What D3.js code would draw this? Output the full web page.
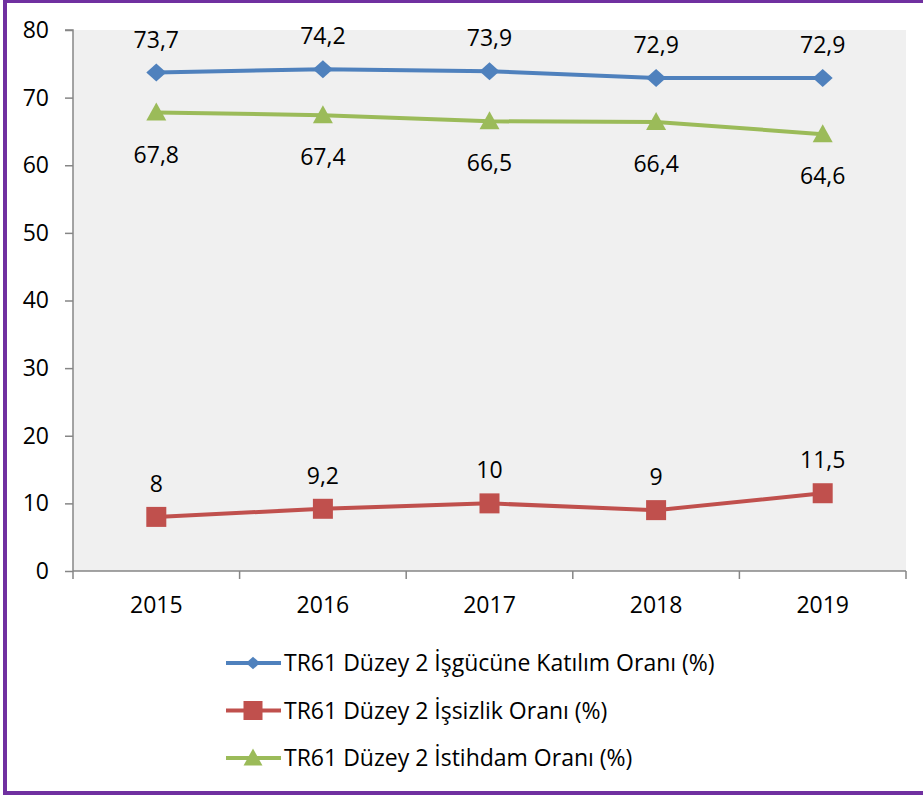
<!DOCTYPE html>
<html>
<head>
<meta charset="utf-8">
<script src="https://cdn.jsdelivr.net/npm/d3@7"></script>
<style>
body { margin: 0; background: #fff; }
svg text { font-family: "Open Sans", "Noto Sans", sans-serif; fill: #000; }
</style>
</head>
<body>
<svg id="chart" width="923" height="795"></svg>
<script>
var years = ["2015", "2016", "2017", "2018", "2019"];
var katilim = [73.7, 74.2, 73.9, 72.9, 72.9];
var issizlik = [8, 9.2, 10, 9, 11.5];
var istihdam = [67.8, 67.4, 66.5, 66.4, 64.6];
var yTicks = [0, 10, 20, 30, 40, 50, 60, 70, 80];
var seriesNames = ["TR61 Düzey 2 İşgücüne Katılım Oranı (%)", "TR61 Düzey 2 İşsizlik Oranı (%)", "TR61 Düzey 2 İstihdam Oranı (%)"];

var series = [
  {name: seriesNames[0], values: katilim, color: "#4f81bd", shape: "diamond", pos: "above"},
  {name: seriesNames[1], values: issizlik, color: "#c0504d", shape: "square", pos: "above"},
  {name: seriesNames[2], values: istihdam, color: "#9bbb59", shape: "triangle", pos: "below"}
];

var svg = d3.select("#chart");

// outer border
svg.append("rect")
  .attr("x", 5).attr("y", 1)
  .attr("width", 922).attr("height", 792)
  .attr("fill", "none")
  .attr("stroke", "#7030a0")
  .attr("stroke-width", 4);

var pLeft = 73, pTop = 30, pRight = 906, pBottom = 571;

var x = d3.scaleBand().domain(years).range([pLeft, pRight]);
var y = d3.scaleLinear().domain([0, 80]).range([pBottom, pTop]);

svg.append("rect")
  .attr("x", pLeft).attr("y", pTop)
  .attr("width", pRight - pLeft).attr("height", pBottom - pTop)
  .attr("fill", "#f0f0f0");

// y axis
var yAxis = svg.append("g").attr("transform", `translate(${pLeft},0)`)
  .call(d3.axisLeft(y).tickValues(yTicks).tickSize(8).tickPadding(16));
yAxis.selectAll("text").style("font-size", "23px").attr("font-family", null);
yAxis.selectAll("line, path").attr("stroke", "#868686").attr("stroke-width", 1.5);
yAxis.select(".domain").attr("d", `M-8,${pTop}H0V${pBottom}`);

// x axis with ticks at category boundaries
var xAxis = svg.append("g").attr("transform", `translate(0,${pBottom})`);
xAxis.append("line").attr("x1", pLeft).attr("x2", pRight)
  .attr("stroke", "#868686").attr("stroke-width", 1.5);
var bounds = years.map(function(d) { return x(d); }).concat([pRight]);
xAxis.selectAll(".tk").data(bounds).enter().append("line")
  .attr("x1", function(d) { return d; }).attr("x2", function(d) { return d; })
  .attr("y1", 0).attr("y2", 8)
  .attr("stroke", "#868686").attr("stroke-width", 1.5);
xAxis.selectAll(".lbl").data(years).enter().append("text")
  .attr("x", function(d) { return x(d) + x.bandwidth() / 2; })
  .attr("y", 42)
  .attr("text-anchor", "middle")
  .style("font-size", "23px")
  .text(function(d) { return d; });

function cx(i) { return x(years[i]) + x.bandwidth() / 2; }

var line = d3.line()
  .x(function(d, i) { return cx(i); })
  .y(function(d) { return y(d); });

// k scales the marker (legend diamond is smaller)
function marker(g, shape, color, px, py, k) {
  k = k || 1;
  if (shape == "diamond") {
    var w = 10 * k, h = 9 * k;
    g.append("path").attr("d", `M${px},${py - h}L${px + w},${py}L${px},${py + h}L${px - w},${py}Z`).attr("fill", color);
  } else if (shape == "square") {
    g.append("rect").attr("x", px - 10 * k).attr("y", py - 10 * k).attr("width", 20 * k).attr("height", 20 * k).attr("fill", color);
  } else {
    g.append("path").attr("d", `M${px},${py - 10 * k}L${px + 10 * k},${py + 8 * k}L${px - 10 * k},${py + 8 * k}Z`).attr("fill", color);
  }
}

series.forEach(function(s) {
  var g = svg.append("g");
  g.append("path").datum(s.values)
    .attr("d", line)
    .attr("fill", "none")
    .attr("stroke", s.color)
    .attr("stroke-width", 4);
  s.values.forEach(function(v, i) {
    marker(g, s.shape, s.color, cx(i), y(v));
    g.append("text")
      .attr("x", cx(i))
      .attr("y", s.pos == "above" ? y(v) - 25 : y(v) + 50)
      .attr("text-anchor", "middle")
      .style("font-size", "23px")
      .text(String(v).replace(".", ","));
  });
});

// legend
var legend = svg.append("g");
series.forEach(function(s, i) {
  var ly = 663 + i * 47.5;
  legend.append("line").attr("x1", 226).attr("x2", 281).attr("y1", ly).attr("y2", ly)
    .attr("stroke", s.color).attr("stroke-width", 4);
  marker(legend, s.shape, s.color, 253, ly, s.shape == "diamond" ? 0.7 : 0.95);
  legend.append("text").attr("x", 284).attr("y", ly + 8)
    .style("font-size", "23px")
    .text(s.name);
});
</script>
</body>
</html>
